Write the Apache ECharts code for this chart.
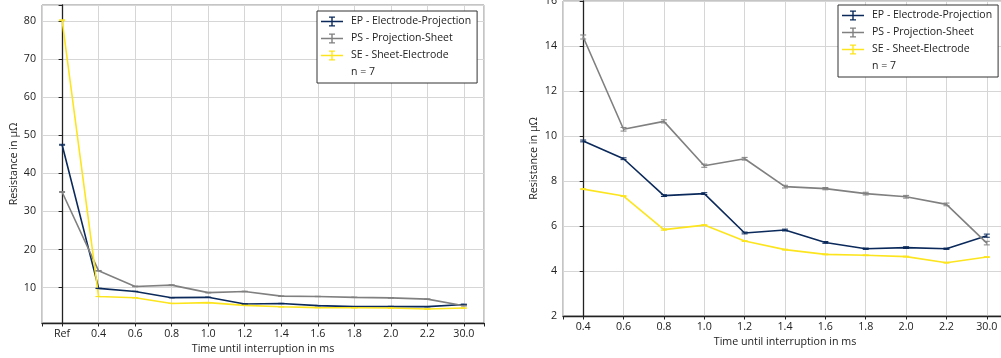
<!DOCTYPE html>
<html>
<head>
<meta charset="utf-8">
<script src="https://cdn.jsdelivr.net/npm/echarts@6/dist/echarts.min.js"></script>
<style>
html,body{margin:0;padding:0;background:#fff;}
#c{width:1001px;height:358px;}
</style>
</head>
<body>
<div id="c"></div>
<script>
// ---- data ----
const catsLeft = ['Ref', '0.4', '0.6', '0.8', '1.0', '1.2', '1.4', '1.6', '1.8', '2.0', '2.2', '30.0'];
const catsRight = ['0.4', '0.6', '0.8', '1.0', '1.2', '1.4', '1.6', '1.8', '2.0', '2.2', '30.0'];
const epRef = 47.5, psRef = 35.1, seRef = 80.2;
const epRefErr = 0.12, psRefErr = 0.12, seRefErr = 0.12;
const ep = [9.78, 8.99, 7.35, 7.44, 5.69, 5.82, 5.27, 4.99, 5.04, 4.99, 5.57];
const ps = [14.40, 10.30, 10.65, 8.68, 8.99, 7.75, 7.66, 7.44, 7.30, 6.96, 5.24];
const se = [7.64, 7.33, 5.84, 6.04, 5.33, 4.95, 4.74, 4.70, 4.64, 4.37, 4.62];
const epErr = [0.04, 0.04, 0.04, 0.04, 0.04, 0.04, 0.04, 0.03, 0.04, 0.03, 0.07];
const psErr = [0.09, 0.08, 0.07, 0.07, 0.06, 0.06, 0.05, 0.06, 0.06, 0.06, 0.08];
const seErr = [0.02, 0.02, 0.03, 0.02, 0.02, 0.02, 0.02, 0.02, 0.02, 0.02, 0.02];
const leftTicks = [10, 20, 30, 40, 50, 60, 70, 80];
const rightTicks = [2, 4, 6, 8, 10, 12, 14, 16];
const nLabel = 'n = 7';
const names = ['EP - Electrode-Projection', 'PS - Projection-Sheet', 'SE - Sheet-Electrode'];
const colors = ['#0b2a5b', '#808080', '#fce51e'];

// ---- build ----
const FONT = 'Open Sans';
const leftVals = [[epRef].concat(ep), [psRef].concat(ps), [seRef].concat(se)];
const leftErrs = [[epRefErr].concat(epErr), [psRefErr].concat(psErr), [seRefErr].concat(seErr)];
const rightVals = [ep, ps, se];
const rightErrs = [epErr, psErr, seErr];

function catFormatter(cats) {
  return function (v) {
    const i = Math.round(v);
    if (Math.abs(v - i) > 1e-6 || i < 0 || i >= cats.length) return '';
    return cats[i];
  };
}
function tickFormatter(list) {
  return function (v) {
    for (const t of list) if (Math.abs(v - t) < 1e-6) return String(t);
    return '';
  };
}

const axisLineDark = { show: true, lineStyle: { color: '#222', width: 1.3 } };
const tickDark = { show: true, inside: false, length: 3.5, lineStyle: { color: '#222', width: 1 } };
const split = { show: true, lineStyle: { color: '#d6d6d6', width: 1 } };
const lbl = { color: '#222', fontFamily: FONT, fontSize: 10.7 };
const nameStyle = { color: '#222', fontFamily: FONT, fontSize: 10.7 };

const ICON = 'path://M0,4.2L22,4.2L22,5.8L0,5.8Z M10.3,0L11.7,0L11.7,10L10.3,10Z M8,0L14,0L14,1.2L8,1.2Z M8,8.8L14,8.8L14,10L8,10Z';

function errRender(color) {
  return function (params, api) {
    const x = api.value(0), lo = api.value(1), hi = api.value(2);
    const pLo = api.coord([x, lo]);
    const pHi = api.coord([x, hi]);
    const w = 3;
    const st = { stroke: color, lineWidth: 1 };
    return {
      type: 'group',
      children: [
        { type: 'line', shape: { x1: pLo[0], y1: pLo[1], x2: pHi[0], y2: pHi[1] }, style: st },
        { type: 'line', shape: { x1: pLo[0] - w, y1: pLo[1], x2: pLo[0] + w, y2: pLo[1] }, style: st },
        { type: 'line', shape: { x1: pHi[0] - w, y1: pHi[1], x2: pHi[0] + w, y2: pHi[1] }, style: st }
      ]
    };
  };
}

const series = [];
function addPanel(vals, errs, axisIdx) {
  for (let s = 0; s < 3; s++) {
    series.push({
      type: 'line', name: names[s], xAxisIndex: axisIdx, yAxisIndex: axisIdx,
      data: vals[s].map((v, i) => [i, v]),
      symbol: 'none', showSymbol: false,
      lineStyle: { color: colors[s], width: 1.6 },
      itemStyle: { color: colors[s] },
      emphasis: { disabled: true }, animation: false, z: 3
    });
    series.push({
      type: 'custom', name: names[s], xAxisIndex: axisIdx, yAxisIndex: axisIdx,
      data: vals[s].map((v, i) => [i, v - errs[s][i], v + errs[s][i]]),
      renderItem: errRender(colors[s]),
      encode: { x: 0, y: [1, 2] },
      itemStyle: { color: colors[s] },
      animation: false, silent: true, z: 4
    });
  }
}
addPanel(leftVals, leftErrs, 0);
addPanel(rightVals, rightErrs, 1);
series.push({ type: 'line', name: nLabel, data: [], xAxisIndex: 0, yAxisIndex: 0, itemStyle: { color: '#fff' } });

function legendCfg(left, top) {
  return {
    orient: 'vertical', left: left, top: top,
    itemWidth: 22, itemHeight: 10, itemGap: 6,
    padding: [5, 6, 5, 4],
    borderColor: '#333', borderWidth: 1, backgroundColor: '#fff',
    selectedMode: false,
    textStyle: { color: '#222', fontFamily: FONT, fontSize: 10.5, padding: [0, 0, 0, 3] },
    itemStyle: { borderWidth: 0 },
    data: names.map(n => ({ name: n, icon: ICON })).concat([{ name: nLabel, icon: 'none' }])
  };
}

const option = {
  backgroundColor: '#fff',
  animation: false,
  grid: [
    { left: 42, right: 517, top: 5, bottom: 35, show: true, borderColor: '#8a8a8a', borderWidth: 1, backgroundColor: 'transparent', outerBoundsMode: 'none' },
    { left: 563, right: -6, top: 1, bottom: 42, show: true, borderColor: '#8a8a8a', borderWidth: 1, backgroundColor: 'transparent', outerBoundsMode: 'none' }
  ],
  legend: [legendCfg(317, 11), legendCfg(838, 5)],
  xAxis: [
    {
      gridIndex: 0, type: 'value', min: -0.55, max: 11.55, minInterval: 1, maxInterval: 1, splitNumber: 12,
      axisLine: axisLineDark, axisTick: tickDark, splitLine: split,
      axisLabel: Object.assign({ margin: 5, formatter: catFormatter(catsLeft), hideOverlap: false }, lbl),
      name: 'Time until interruption in ms', nameLocation: 'middle', nameGap: 19, nameTextStyle: nameStyle
    },
    {
      gridIndex: 1, type: 'value', min: -0.5, max: 10.5, minInterval: 1, maxInterval: 1, splitNumber: 11,
      axisLine: axisLineDark, axisTick: tickDark, splitLine: split,
      axisLabel: Object.assign({ margin: 5, formatter: catFormatter(catsRight), hideOverlap: false }, lbl),
      name: 'Time until interruption in ms', nameLocation: 'middle', nameGap: 19, nameTextStyle: nameStyle
    }
  ],
  yAxis: [
    {
      gridIndex: 0, type: 'value', min: 0.7, max: 84.2, minInterval: 10, maxInterval: 10, splitNumber: 8,
      axisLine: axisLineDark, axisTick: tickDark, splitLine: split,
      axisLabel: Object.assign({ margin: 6, formatter: tickFormatter(leftTicks), hideOverlap: false }, lbl),
      name: 'Resistance in μΩ', nameLocation: 'middle', nameGap: 23, nameRotate: 90, nameTextStyle: nameStyle
    },
    {
      gridIndex: 1, type: 'value', min: 2, max: 16, interval: 2,
      axisLine: axisLineDark, axisTick: tickDark, splitLine: split,
      axisLabel: Object.assign({ margin: 6, formatter: tickFormatter(rightTicks), hideOverlap: false }, lbl),
      name: 'Resistance in μΩ', nameLocation: 'middle', nameGap: 24, nameRotate: 90, nameTextStyle: nameStyle
    }
  ],
  series: series
};

const chart = echarts.init(document.getElementById('c'), null, { renderer: 'canvas' });
chart.setOption(option);
</script>
</body>
</html>
